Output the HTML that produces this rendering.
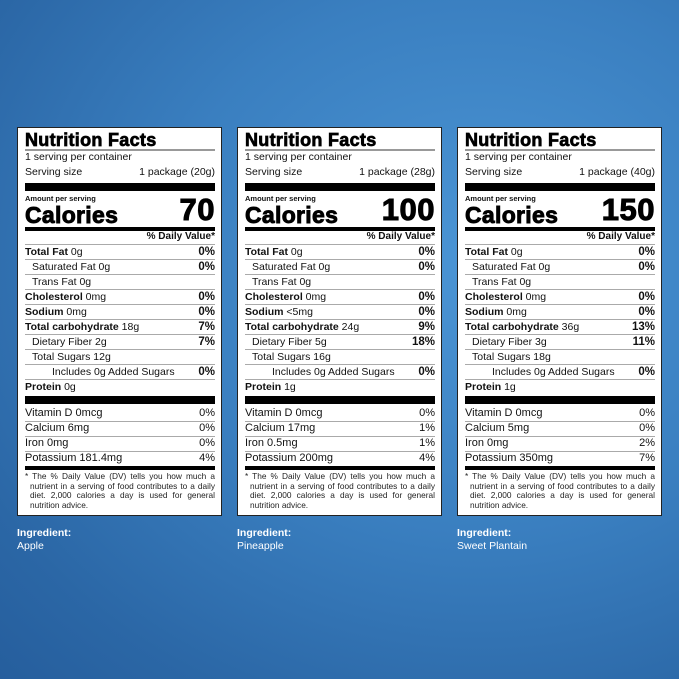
<!DOCTYPE html>
<html><head><meta charset="utf-8"><style>
*{margin:0;padding:0;box-sizing:border-box}
body{width:679px;height:679px;overflow:hidden;position:relative;font-family:"Liberation Sans",sans-serif;
background:radial-gradient(ellipse 700px 600px at 480px 260px,#4b95d5 0%,#3a7fc0 45%,#2b67a6 80%,#255d9c 100%);}
.box{position:absolute;top:127px;width:205px;height:389px;background:#fff;border:1px solid #222;}
.r{position:absolute;left:7px;right:6px;font-size:10.5px;color:#111;white-space:nowrap;line-height:12px}
.r span.v{position:absolute;right:0;top:0}
.b{font-weight:bold}
.ln{position:absolute;left:7px;right:6px;height:1px;background:#aaa}
.bar{position:absolute;left:7px;right:6px;background:#000}
.t{position:absolute;left:7px;top:2px;font-size:18px;font-weight:bold;letter-spacing:0.3px;-webkit-text-stroke:0.7px #000}
.cal{position:absolute;left:7px;top:74px;font-size:23px;font-weight:bold;letter-spacing:0.3px;-webkit-text-stroke:0.9px #000}
.cn{position:absolute;right:6px;top:64px;font-size:31px;font-weight:bold;letter-spacing:0.5px;-webkit-text-stroke:1px #000}
.fn{position:absolute;left:7px;right:6px;top:344px;font-size:8.3px;line-height:9.5px;color:#222;text-align:justify;padding-left:5px;text-indent:-5px}
.ing{position:absolute;top:527px;color:#fff;font-size:10.5px;line-height:13px}
</style></head><body>
<div id="c"></div>
<script>
const data=[
{x:17,g:"20g",cal:"70",c:["18g","7%"],f:["2g","7%"],s:"12g",sod:"0mg",p:"0g",vd:"0%",ca:["6mg","0%"],fe:["0mg","0%"],k:["181.4mg","4%"],ing:"Apple"},
{x:237,g:"28g",cal:"100",c:["24g","9%"],f:["5g","18%"],s:"16g",sod:"&lt;5mg",p:"1g",vd:"0%",ca:["17mg","1%"],fe:["0.5mg","1%"],k:["200mg","4%"],ing:"Pineapple"},
{x:457,g:"40g",cal:"150",c:["36g","13%"],f:["3g","11%"],s:"18g",sod:"0mg",p:"1g",vd:"0%",ca:["5mg","0%"],fe:["0mg","2%"],k:["350mg","7%"],ing:"Sweet Plantain"}];
let h="";
for(const d of data){
const row=(y,l,v,ind,vb)=>`<div class="r" style="top:${y-127-7}px;padding-left:${ind||0}px">${l}<span class="v ${vb===false?'':'b'}" style="font-size:11.5px">${v||""}</span></div>`;
let s=`<div class="box" style="left:${d.x}px">`;
s+=`<div class="t">Nutrition Facts</div><div class="ln" style="top:21px;height:2px;background:#999"></div>`;
s+=row(157,"1 serving per container");
s+=`<div class="r" style="top:${172-134}px"><span class="b" style="font-weight:normal;font-size:10.5px">Serving size</span><span class="v" style="font-size:10.5px">1 package (${d.g})</span></div>`;
s+=`<div class="bar" style="top:55px;height:8px"></div>`;
s+=`<div class="r b" style="top:66px;font-size:7.5px;line-height:9px">Amount per serving</div>`;
s+=`<div class="cal">Calories</div><div class="cn">${d.cal}</div>`;
s+=`<div class="bar" style="top:99px;height:4px"></div>`;
s+=`<div class="r" style="top:${237-134}px"><span class="v b" style="font-size:10px">% Daily Value*</span></div>`;
const rows=[["<b>Total Fat</b> 0g","0%",0],["Saturated Fat 0g","0%",7],["Trans Fat 0g","",7],["<b>Cholesterol</b> 0mg","0%",0],["<b>Sodium</b> "+d.sod,"0%",0],["<b>Total carbohydrate</b> "+d.c[0],d.c[1],0],["Dietary Fiber "+d.f[0],d.f[1],7],["Total Sugars "+d.s,"",7],["Includes 0g Added Sugars","0%",27],["<b>Protein</b> "+d.p,"",0]];
rows.forEach((r,i)=>{const y=252+i*15;s+=`<div class="ln" style="top:${y-127-9}px"></div>`;s+=row(y,r[0],r[1],r[2]);});
s+=`<div class="bar" style="top:268px;height:8px"></div>`;
const v=[["Vitamin D 0mcg",d.vd],["Calcium "+d.ca[0],d.ca[1]],["Iron "+d.fe[0],d.fe[1]],["Potassium "+d.k[0],d.k[1]]];
v.forEach((r,i)=>{const y=413+i*15;if(i)s+=`<div class="ln" style="top:${y-127-8}px"></div>`;s+=`<div class="r" style="top:${y-134}px;font-size:11px">${r[0]}<span class="v" style="font-size:11px">${r[1]}</span></div>`;});
s+=`<div class="bar" style="top:338px;height:4px"></div>`;
s+=`<div class="fn">* The % Daily Value (DV) tells you how much a nutrient in a serving of food contributes to a daily diet. 2,000 calories a day is used for general nutrition advice.</div>`;
s+=`</div><div class="ing" style="left:${d.x}px"><b>Ingredient:</b><br>${d.ing}</div>`;
h+=s;}
document.getElementById("c").innerHTML=h;
</script>
</body></html>
